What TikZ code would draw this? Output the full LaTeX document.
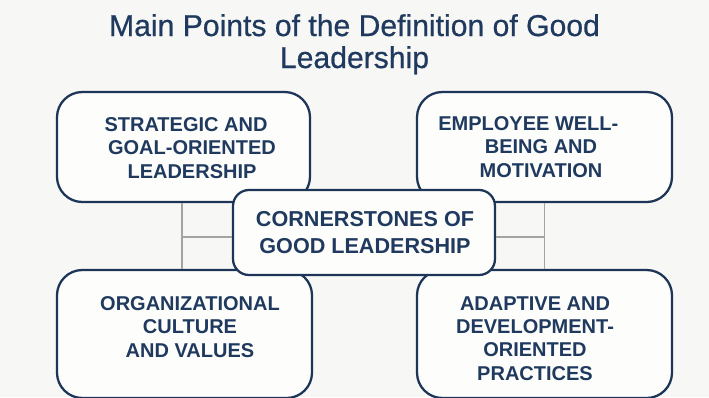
\documentclass[tikz,border=0pt]{standalone}
\usepackage{fontspec}
\setmainfont{Liberation Sans}
\definecolor{pagebg}{HTML}{F7F7F5}
\definecolor{boxfill}{HTML}{FDFDFC}
\definecolor{navy}{HTML}{1D3658}
\definecolor{inkblue}{HTML}{1F3A5E}
\definecolor{linkgray}{HTML}{A3A3A3}
\tikzset{
  card/.style={draw=navy, line width=1.7pt, fill=boxfill, rounded corners=19pt,
               inner sep=0pt, minimum width=#1},
  hubcard/.style={draw=navy, line width=1.7pt, fill=boxfill, rounded corners=12pt,
               inner sep=0pt},
  cardtext/.style={text=inkblue, font=\bfseries\fontsize{15}{17.5}\selectfont,
               align=center, inner sep=0pt, anchor=base},
  hubtext/.style={text=inkblue, font=\bfseries\fontsize{16.2}{20}\selectfont,
               align=center, inner sep=0pt, anchor=base},
  link/.style={draw=linkgray, line width=1.2pt}
}
\begin{document}
\begin{tikzpicture}[x=0.75pt,y=-0.75pt]
  % page
  \fill[pagebg] (0,0) rectangle (709,397);
  \useasboundingbox (0,0) rectangle (709,397);

  % heading (anchored on the baseline of its last line)
  \node[text=inkblue, font=\fontsize{22.6}{24}\selectfont\addfontfeature{FakeBold=0.6},
        align=center, inner sep=0pt, anchor=base] (title) at (354.5,68)
        {Main Points of the Definition of Good\\Leadership};

  \begin{scope}
    \clip (0,0) rectangle (709,397);

    % four corner cards
    \node[card=189.75pt, minimum height=82.5pt] (tl) at (183.5,147) {};
    \node[card=191.25pt, minimum height=82.5pt] (tr) at (544.5,147) {};
    \node[card=191.25pt, minimum height=96pt] (bl) at (184.5,334) {};
    \node[card=191.25pt, minimum height=96pt] (br) at (544.5,334) {};
  \end{scope}

  % links between the cards and the hub
  \draw[link] ([xshift=-1pt]tl.south) -- ([xshift=-1pt]tl.south |- bl.north);
  \draw[link] (tr.south) -- (tr.south |- br.north);

  % hub card
  \node[hubcard, minimum width=196.5pt, minimum height=63.75pt] (hub) at (364,232.5) {};
  \draw[link] ([yshift=-3.2pt]hub.west) -- ([yshift=-3.2pt,xshift=-1pt]hub.west -| tl.south);
  \draw[link] ([yshift=-3.2pt]hub.east) -- ([yshift=-3.2pt]hub.east -| tr.south);

  % card texts (anchored on the baseline of the last line)
  \node[cardtext] (tltext) at (192,178) {STRATEGIC AND\hspace*{9pt}\\GOAL-ORIENTED\\LEADERSHIP};
  \node[cardtext] (trtext) at (541,177) {EMPLOYEE WELL-\hspace*{19pt}\\BEING AND\\MOTIVATION};
  \node[cardtext] (bltext) at (190,357) {ORGANIZATIONAL\\CULTURE\\AND VALUES};
  \node[cardtext] (brtext) at (535,380) {ADAPTIVE AND\\DEVELOPMENT-\\ORIENTED\\PRACTICES};
  \node[hubtext] (hubtext) at (365,253) {CORNERSTONES OF\\GOOD LEADERSHIP};
\end{tikzpicture}
\end{document}
